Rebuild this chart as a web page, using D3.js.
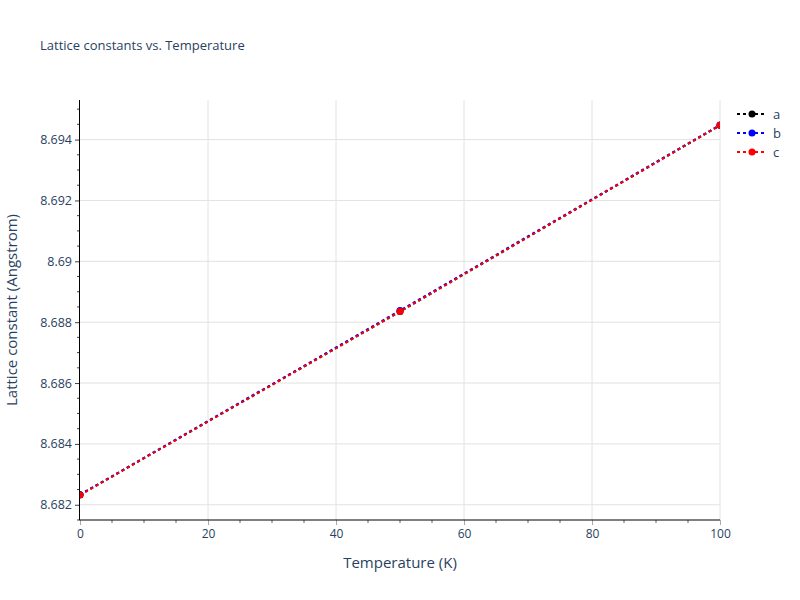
<!DOCTYPE html>
<html>
<head>
<meta charset="utf-8">
<script src="https://cdn.jsdelivr.net/npm/d3@7"></script>
<style>
  body { margin: 0; background: #fff; }
  text { font-family: "Open Sans", sans-serif; fill: #2a3f5f; }
</style>
</head>
<body>
<svg id="chart" width="800" height="600"></svg>
<script>
// data
var temperatures = [0, 50, 100];
var latticeA = [8.68233, 8.68835, 8.69447];
var latticeB = [8.68233, 8.68838, 8.69448];
var latticeC = [8.68232, 8.68835, 8.69447];
var seriesNames = ['a', 'b', 'c'];
var seriesColors = ['#000000', '#0000ff', '#ff0000'];
var xTicks = [0, 20, 40, 60, 80, 100];
var yTicks = [8.682, 8.684, 8.686, 8.688, 8.69, 8.692, 8.694];

var layout = {
    left: 80, right: 720, top: 100, bottom: 520
};

var series = [latticeA, latticeB, latticeC].map((vals, i) => ({
    name: seriesNames[i],
    color: seriesColors[i],
    points: vals.map((v, j) => ({ x: temperatures[j], y: v }))
}));

var svg = d3.select('#chart');

var allY = [].concat(latticeA, latticeB, latticeC);
var yExt = d3.extent(allY);
var pad = (yExt[1] - yExt[0]) * 0.0675;

var x = d3.scaleLinear().domain([0, 100]).range([layout.left, layout.right]);
var y = d3.scaleLinear().domain([yExt[0] - pad, yExt[1] + pad]).range([layout.bottom, layout.top]);

svg.append('defs').append('clipPath').attr('id', 'plot-clip')
    .append('rect')
    .attr('x', layout.left).attr('y', layout.top)
    .attr('width', layout.right - layout.left)
    .attr('height', layout.bottom - layout.top);

// grid
svg.append('g').attr('class', 'grid')
    .selectAll('line.gx').data(xTicks.slice(1)).enter().append('line')
    .attr('x1', d => x(d)).attr('x2', d => x(d))
    .attr('y1', layout.top).attr('y2', layout.bottom)
    .attr('stroke', '#e2e2e2').attr('stroke-width', 1);

svg.append('g').attr('class', 'grid')
    .selectAll('line.gy').data(yTicks).enter().append('line')
    .attr('x1', layout.left).attr('x2', layout.right)
    .attr('y1', d => y(d)).attr('y2', d => y(d))
    .attr('stroke', '#e2e2e2').attr('stroke-width', 1);

// x axis
var xAxis = d3.axisBottom(x).tickValues(xTicks).tickSize(5).tickSizeOuter(0).tickPadding(4);
var xg = svg.append('g')
    .attr('transform', `translate(0, ${ layout.bottom })`)
    .call(xAxis);
xg.select('.domain').remove();
xg.selectAll('.tick line').attr('stroke', '#aaaaaa');
xg.selectAll('.tick text').attr('font-size', 12).style('fill', '#2a3f5f');

var xMinor = d3.range(0, 101, 5).filter(d => d % 20 !== 0);
svg.append('g').selectAll('line').data(xMinor).enter().append('line')
    .attr('x1', d => x(d)).attr('x2', d => x(d))
    .attr('y1', layout.bottom).attr('y2', layout.bottom + 3)
    .attr('stroke', '#666');

// y axis
var yAxis = d3.axisLeft(y).tickValues(yTicks).tickSize(5).tickSizeOuter(0).tickPadding(3)
    .tickFormat(d => String(+d.toFixed(3)));
var yg = svg.append('g')
    .attr('transform', `translate(${ layout.left }, 0)`)
    .call(yAxis);
yg.select('.domain').remove();
yg.selectAll('.tick line').attr('stroke', '#444');
yg.selectAll('.tick text').attr('font-size', 12.5).style('fill', '#2a3f5f');

var yMinor = d3.range(8.6815, 8.6953, 0.0005).filter(d => yTicks.every(t => Math.abs(t - d) > 1e-6));
svg.append('g').selectAll('line').data(yMinor).enter().append('line')
    .attr('x1', layout.left - 3).attr('x2', layout.left)
    .attr('y1', d => y(d)).attr('y2', d => y(d))
    .attr('stroke', '#444');

// axis lines
svg.append('line')
    .attr('x1', layout.left - 0.5).attr('x2', layout.right)
    .attr('y1', layout.bottom).attr('y2', layout.bottom)
    .attr('stroke', '#000').attr('stroke-width', 1);
svg.append('line')
    .attr('x1', layout.left - 0.5).attr('x2', layout.left - 0.5)
    .attr('y1', layout.top).attr('y2', layout.bottom)
    .attr('stroke', '#000').attr('stroke-width', 1);

// series
var line = d3.line().x(d => x(d.x)).y(d => y(d.y));
var plot = svg.append('g').attr('clip-path', 'url(#plot-clip)');

plot.selectAll('.trace').data(series).enter().append('g')
    .attr('class', 'trace')
    .each(function (s) {
        var _this = d3.select(this);

        _this.append('path')
            .attr('d', line(s.points))
            .attr('fill', 'none')
            .attr('stroke', s.color)
            .attr('stroke-width', 2)
            .attr('stroke-dasharray', '3,3');

        _this.selectAll('circle').data(s.points).enter().append('circle')
            .attr('cx', d => x(d.x))
            .attr('cy', d => y(d.y))
            .attr('r', 3.5)
            .attr('fill', s.color);
    });

// legend
var legend = svg.append('g').attr('transform', 'translate(737, 114)');
legend.selectAll('.item').data(series).enter().append('g')
    .attr('class', 'item')
    .attr('transform', (s, i) => `translate(0, ${ i * 19 })`)
    .each(function (s) {
        var _this = d3.select(this);
        _this.append('line')
            .attr('x1', 0).attr('x2', 30).attr('y1', 0).attr('y2', 0)
            .attr('stroke', s.color).attr('stroke-width', 2)
            .attr('stroke-dasharray', '3,3');
        _this.append('circle').attr('cx', 15).attr('cy', 0).attr('r', 3.5).attr('fill', s.color);
        _this.append('text')
            .attr('x', 36).attr('y', 4.5)
            .attr('font-size', 13)
            .text(s.name);
    });

// titles
svg.append('text')
    .attr('x', 40).attr('y', 50)
    .attr('font-size', 13)
    .text('Lattice constants vs. Temperature');

svg.append('text')
    .attr('x', (layout.left + layout.right) / 2).attr('y', 568)
    .attr('text-anchor', 'middle')
    .attr('font-size', 15)
    .text('Temperature (K)');

svg.append('text')
    .attr('transform', `translate(17, ${ (layout.top + layout.bottom) / 2 }) rotate(-90)`)
    .attr('text-anchor', 'middle')
    .attr('font-size', 15)
    .text('Lattice constant (Angstrom)');
</script>
</body>
</html>
